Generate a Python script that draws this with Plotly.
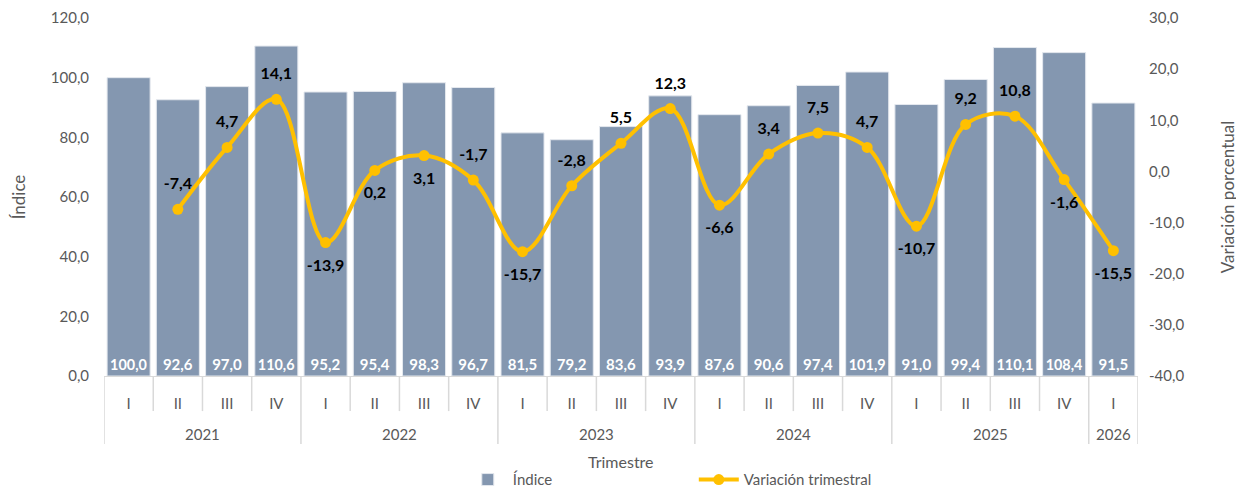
import plotly.graph_objects as go

years = ["2021"] * 4 + ["2022"] * 4 + ["2023"] * 4 + ["2024"] * 4 + ["2025"] * 4 + ["2026"]
quarters = ["I", "II", "III", "IV"] * 5 + ["I"]
year_labels = ["2021", "2022", "2023", "2024", "2025", "2026"]
indice = [100.0, 92.6, 97.0, 110.6, 95.2, 95.4, 98.3, 96.7, 81.5, 79.2, 83.6, 93.9,
          87.6, 90.6, 97.4, 101.9, 91.0, 99.4, 110.1, 108.4, 91.5]
variacion = [None, -7.4, 4.7, 14.1, -13.9, 0.2, 3.1, -1.7, -15.7, -2.8, 5.5, 12.3,
             -6.6, 3.4, 7.5, 4.7, -10.7, 9.2, 10.8, -1.6, -15.5]
var_text_pos = ["top center", "top center", "top center", "top center", "bottom center",
                "bottom center", "bottom center", "top center", "bottom center", "top center",
                "top center", "top center", "bottom center", "top center", "top center",
                "top center", "bottom center", "top center", "top center", "bottom center",
                "bottom center"]
left_ticks = [0, 20, 40, 60, 80, 100, 120]
right_ticks = [-40, -30, -20, -10, 0, 10, 20, 30]


def fmt(v):
    return "" if v is None else f"{v:.1f}".replace(".", ",")


FONT = "Lato, 'Open Sans', sans-serif"
GRAY = "#595959"
LINEGRAY = "#D9D9D9"

pos = list(range(len(quarters)))

fig = go.Figure()
fig.add_trace(go.Bar(
    x=pos, y=indice, name="Índice",
    marker=dict(color="#8497B0", line=dict(color="#E4E8EE", width=1)),
    text=[fmt(v) for v in indice], textposition="inside", insidetextanchor="start",
    textfont=dict(color="white", size=15, family=FONT, weight="bold"),
    textangle=0, cliponaxis=False, hoverinfo="x+y",
))
fig.add_trace(go.Scatter(
    x=pos, y=variacion, name="Variación trimestral", yaxis="y2",
    mode="lines+markers", line=dict(color="#FFC000", width=4, shape="spline", smoothing=1.0),
    marker=dict(color="#FFC000", size=11),
    connectgaps=False, cliponaxis=False,
))
# data labels of the line (transparent larger markers only give the label offset)
fig.add_trace(go.Scatter(
    x=pos, y=variacion, yaxis="y2", showlegend=False, hoverinfo="skip",
    mode="markers+text", marker=dict(size=24, opacity=0),
    text=[fmt(v) for v in variacion], textposition=var_text_pos,
    textfont=dict(color="black", size=16, family=FONT, weight="bold"),
    cliponaxis=False,
))

# category box grid below the axis
shapes = []
annotations = []
n = len(quarters)
for k in range(n + 1):
    b = k - 0.5
    is_year_edge = k == 0 or k == n or years[k] != years[k - 1]
    shapes.append(dict(type="line", xref="x", yref="paper", x0=b, x1=b,
                       y0=0, y1=-0.19 if is_year_edge else -0.098,
                       line=dict(color=LINEGRAY, width=1.5)))
for yl in year_labels:
    idx = [i for i, y in enumerate(years) if y == yl]
    annotations.append(dict(x=(idx[0] + idx[-1]) / 2, y=-0.162, xref="x", yref="paper",
                            text=yl, showarrow=False, yanchor="middle",
                            font=dict(size=15, color=GRAY, family=FONT)))
annotations.append(dict(x=0.5, y=-0.24, xref="paper", yref="paper", text="Trimestre",
                        showarrow=False, yanchor="middle",
                        font=dict(size=16, color=GRAY, family=FONT)))

fig.update_layout(
    width=1236, height=481,
    margin=dict(l=96, r=106, t=10, b=113, autoexpand=False),
    paper_bgcolor="white", plot_bgcolor="white",
    font=dict(family=FONT, color=GRAY, size=14),
    bargap=0.126,
    showlegend=True,
    legend=dict(orientation="h", x=0.347, xanchor="left", y=-0.29, yanchor="middle",
                font=dict(size=15, color=GRAY), entrywidth=176, entrywidthmode="pixels",
                itemwidth=40),
    shapes=shapes,
    annotations=annotations,
    xaxis=dict(
        range=[-0.5, n - 0.5], tickvals=pos, ticktext=quarters, automargin=False,
        showgrid=False, zeroline=False, showline=True, linecolor=LINEGRAY, linewidth=1,
        ticks="", tickfont=dict(size=15, color=GRAY), ticklabelstandoff=14,
    ),
    yaxis=dict(
        range=[0, 120], tickvals=left_ticks, ticktext=[fmt(v) for v in left_ticks],
        showgrid=False, zeroline=False, showline=False, automargin=False,
        tickfont=dict(size=15, color=GRAY), ticklabelstandoff=14,
        title=dict(text="Índice", font=dict(size=17, color=GRAY), standoff=20),
    ),
    yaxis2=dict(
        range=[-40, 30], overlaying="y", side="right", automargin=False,
        tickvals=right_ticks, ticktext=[fmt(v) for v in right_ticks],
        showgrid=False, zeroline=False, showline=False,
        tickfont=dict(size=15, color=GRAY), ticklabelstandoff=10,
        title=dict(text="Variación porcentual", font=dict(size=17, color=GRAY), standoff=38),
    ),
)

fig.write_html("out.html")
